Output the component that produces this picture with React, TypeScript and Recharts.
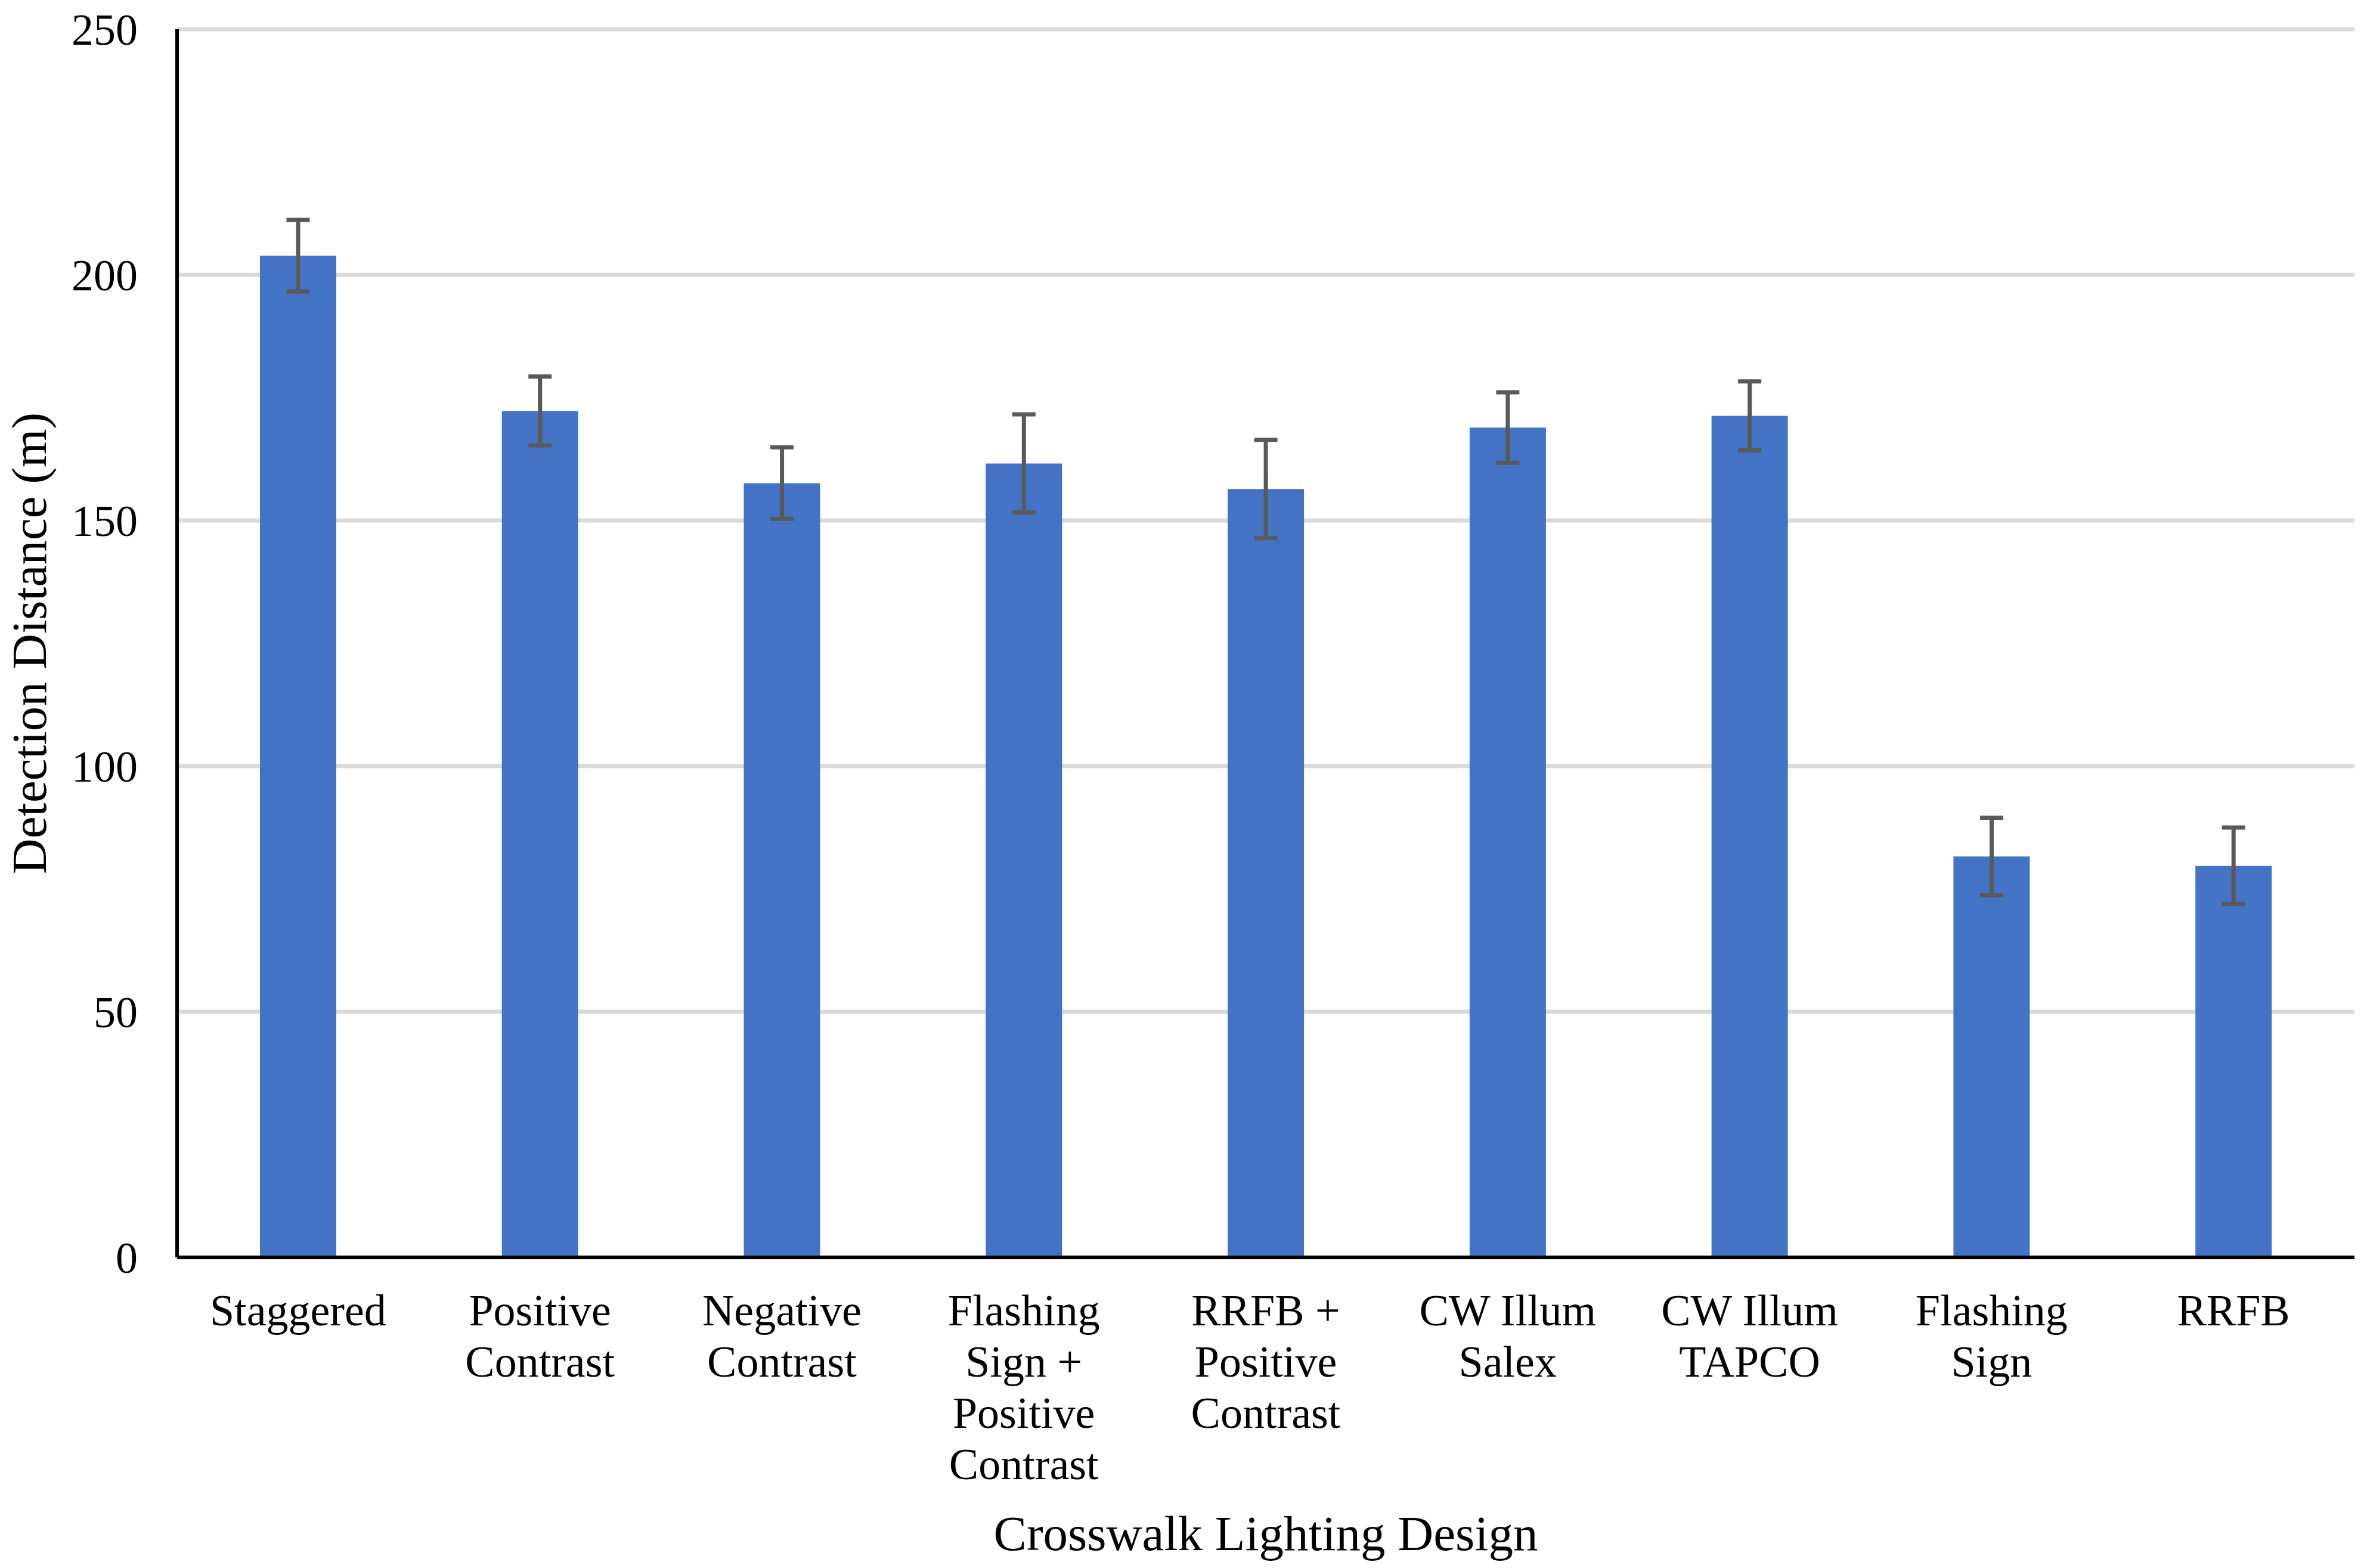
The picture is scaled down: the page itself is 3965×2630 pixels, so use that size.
import React from 'react';
import { BarChart, Bar, XAxis, YAxis, CartesianGrid, ErrorBar } from 'recharts';

const categories = [
  'Staggered',
  'Positive Contrast',
  'Negative Contrast',
  'Flashing Sign + Positive Contrast',
  'RRFB + Positive Contrast',
  'CW Illum Salex',
  'CW Illum TAPCO',
  'Flashing Sign',
  'RRFB',
];
const meanDistance = [203.9, 172.3, 157.6, 161.6, 156.4, 168.9, 171.3, 81.6, 79.7];
const errorMargin = [7.3, 7.0, 7.3, 10.0, 10.0, 7.2, 7.0, 7.9, 7.8];
const yTicks = [0, 50, 100, 150, 200, 250];

const data = categories.map((name, i) => ({ name, value: meanDistance[i], err: errorMargin[i] }));

const FONT = '"Liberation Serif", "Times New Roman", serif';

let measureCtx: CanvasRenderingContext2D | null = null;
function measure(s: string, size: number): number {
  if (!measureCtx) {
    const c = document.createElement('canvas');
    measureCtx = c.getContext('2d');
  }
  if (!measureCtx) return s.length * size * 0.45;
  measureCtx.font = `${size}px ${FONT}`;
  return measureCtx.measureText(s).width;
}

function wrapWords(text: string, maxWidth: number, size: number): string[] {
  const words = text.split(' ');
  const lines: string[] = [];
  let cur = '';
  for (const w of words) {
    const cand = cur ? cur + ' ' + w : w;
    if (!cur || measure(cand, size) <= maxWidth) {
      cur = cand;
    } else {
      lines.push(cur);
      cur = w;
    }
  }
  if (cur) lines.push(cur);
  return lines;
}

const XTick = (props: any) => {
  const { x, y, payload } = props;
  const lines = wrapWords(String(payload.value), 360, 74);
  return (
    <text x={x} y={y + 114} textAnchor="middle" fontSize={74} fontFamily={FONT} fill="#000">
      {lines.map((ln, i) => (
        <tspan key={i} x={x} dy={i === 0 ? 0 : 86}>
          {ln}
        </tspan>
      ))}
    </text>
  );
};

const XTitle = (props: any) => {
  const vb = props.viewBox || {};
  return (
    <text x={vb.x + vb.width / 2} y={vb.y + 491} textAnchor="middle" fontSize={83} fontFamily={FONT} fill="#000">
      Crosswalk Lighting Design
    </text>
  );
};

const YTitle = (props: any) => {
  const vb = props.viewBox || {};
  const cy = vb.y + vb.height / 2;
  const cx = 77;
  return (
    <text x={cx} y={cy} transform={`rotate(-90, ${cx}, ${cy})`} textAnchor="middle" fontSize={83} fontFamily={FONT} fill="#000">
      Detection Distance (m)
    </text>
  );
};

export default function App() {
  return (
    <div style={{ position: 'absolute', left: 0, top: 0, background: '#fff' }}>
      <BarChart width={3965} height={2630} data={data} margin={{ top: 49, right: 16, bottom: 0, left: 0 }}>
        <CartesianGrid vertical={false} stroke="#d9d9d9" strokeWidth={7} />
        <XAxis
          dataKey="name"
          height={521}
          interval={0}
          tickLine={false}
          tickSize={0}
          tickMargin={0}
          axisLine={{ stroke: '#000', strokeWidth: 6 }}
          tick={<XTick />}
          label={{ content: XTitle }}
        />
        <YAxis
          width={297}
          domain={[0, 250]}
          ticks={yTicks}
          interval={0}
          tickLine={false}
          tickSize={0}
          tickMargin={66}
          axisLine={{ stroke: '#000', strokeWidth: 6 }}
          tick={{ fill: '#000', fontSize: 74, fontFamily: FONT }}
          label={{ content: YTitle }}
        />
        <Bar dataKey="value" fill="#4472C4" barSize={128} isAnimationActive={false}>
          <ErrorBar dataKey="err" width={19.5} strokeWidth={7} stroke="#595959" direction="y" isAnimationActive={false} />
        </Bar>
      </BarChart>
    </div>
  );
}
